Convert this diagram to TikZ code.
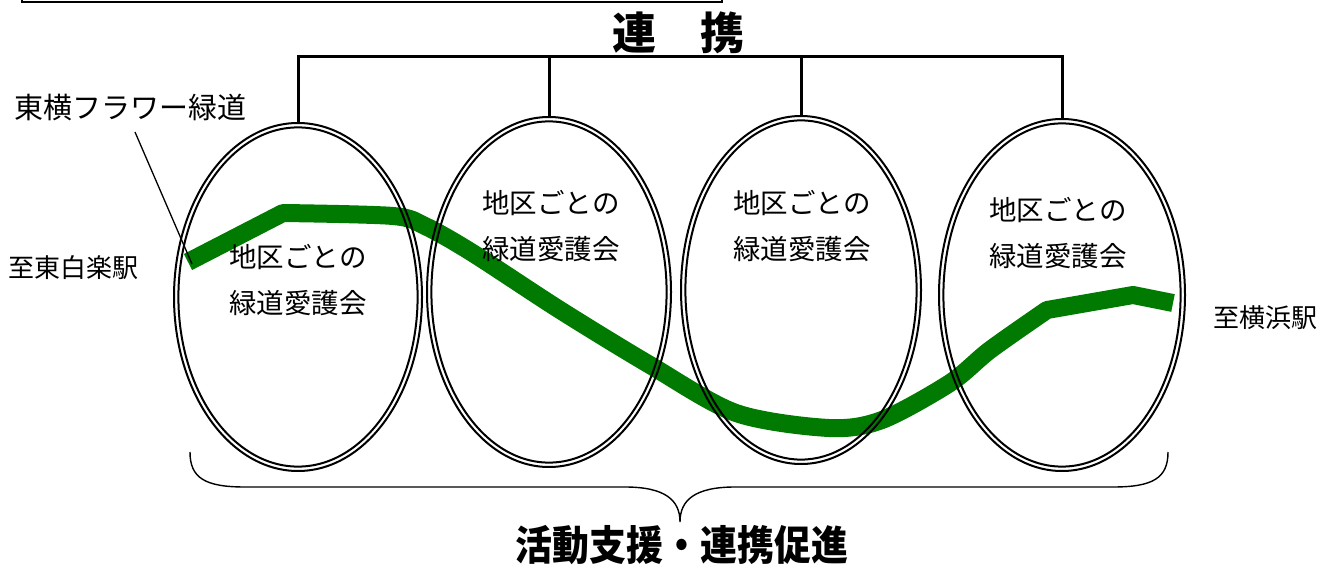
\documentclass[tikz,border=0pt]{standalone}
\usepackage{fontspec}
\newfontfamily\jp{Noto Sans CJK JP}
\newfontfamily\jpc[FakeStretch=0.9]{Noto Sans CJK JP}
\usetikzlibrary{shapes.geometric}
\definecolor{road}{RGB}{0,122,0}
\begin{document}
\begin{tikzpicture}[x=1pt,y=-1pt,
  oval/.style={ellipse,draw=black,line width=2pt,inner sep=0pt,outer sep=0pt},
  body/.style={font=\jp\fontsize{27.5}{46}\selectfont,align=center,inner sep=0pt},
  side/.style={font=\jp\fontsize{26}{30}\selectfont,inner sep=0pt},
  head/.style={font=\jp\bfseries\fontsize{44}{48}\selectfont,inner sep=0pt},
  foot/.style={font=\jpc\bfseries\fontsize{41}{45}\selectfont,inner sep=0pt},
  link/.style={line width=3pt,line cap=rect},
  greenway/.style={draw=road,line width=18pt,line join=round}]
\useasboundingbox (0,0) rectangle (1328,567);
% frame edge at top
\draw[line width=2pt] (22,-10) rectangle (722,2);
% green way
\draw[greenway] (188,262) -- (283,213) -- plot[smooth,tension=0.5] coordinates
 {(283,213) (393,216) (425,226) (471,252) (560,310) (650,365) (736,413) (829,428) (882,420) (950,383) (990,350) (1047,310)}
 -- (1133,295) -- (1173,303);
% ellipses (double outline)
\node[oval,minimum width=248pt,minimum height=348pt] (e1) at (298,297) {};
\node[oval,minimum width=239.2pt,minimum height=339.2pt] (e1i) at (e1.center) {};
\node[oval,minimum width=244pt,minimum height=350pt] (e2) at (549,292) {};
\node[oval,minimum width=235.2pt,minimum height=341.2pt] (e2i) at (e2.center) {};
\node[oval,minimum width=240pt,minimum height=348pt] (e3) at (801,290) {};
\node[oval,minimum width=231.2pt,minimum height=339.2pt] (e3i) at (e3.center) {};
\node[oval,minimum width=246pt,minimum height=352pt] (e4) at (1062,295) {};
\node[oval,minimum width=237.2pt,minimum height=343.2pt] (e4i) at (e4.center) {};
% texts in ellipses
\node[body] (t1) at (298,280) {地区ごとの\\緑道愛護会};
\node[body] (t2) at (551,226) {地区ごとの\\緑道愛護会};
\node[body] (t3) at (802,226) {地区ごとの\\緑道愛護会};
\node[body] (t4) at (1058,233) {地区ごとの\\緑道愛護会};
% top connector
\node[head] (renkei) at (678,33) {連　携};
\coordinate (bar) at (0,57);
\draw[link] (e1.north) -- (e1.north |- bar) -- (e4.north |- bar) -- (e4.north);
\draw[link] (e2.north) -- (e2.north |- bar);
\draw[link] (e3.north) -- (e3.north |- bar);
% side labels
\node[font=\jp\fontsize{29}{32}\selectfont,inner sep=0pt,anchor=west] (way) at (14,108) {東横フラワー緑道};
\coordinate (wayend) at (192,264);
\draw[line width=1.3pt] (135,132) -- (wayend);
\node[side,anchor=west] (west) at (8,268) {至東白楽駅};
\node[side,anchor=west] (east) at (1213,318) {至横浜駅};
% brace
\coordinate (bl) at (190,452);
\coordinate (br) at (1168,452);
\coordinate (tip) at (680,522);
\draw[line width=1.4pt] (bl) .. controls (190,478) and (205,487) .. (245,487)
  -- (625,487) .. controls (665,487) and (680,500) .. (tip)
  .. controls (680,500) and (695,487) .. (735,487)
  -- (1113,487) .. controls (1153,487) and (1168,478) .. (br);
\node[foot] (support) at (682,545) {活動支援・連携促進};
\end{tikzpicture}
\end{document}
